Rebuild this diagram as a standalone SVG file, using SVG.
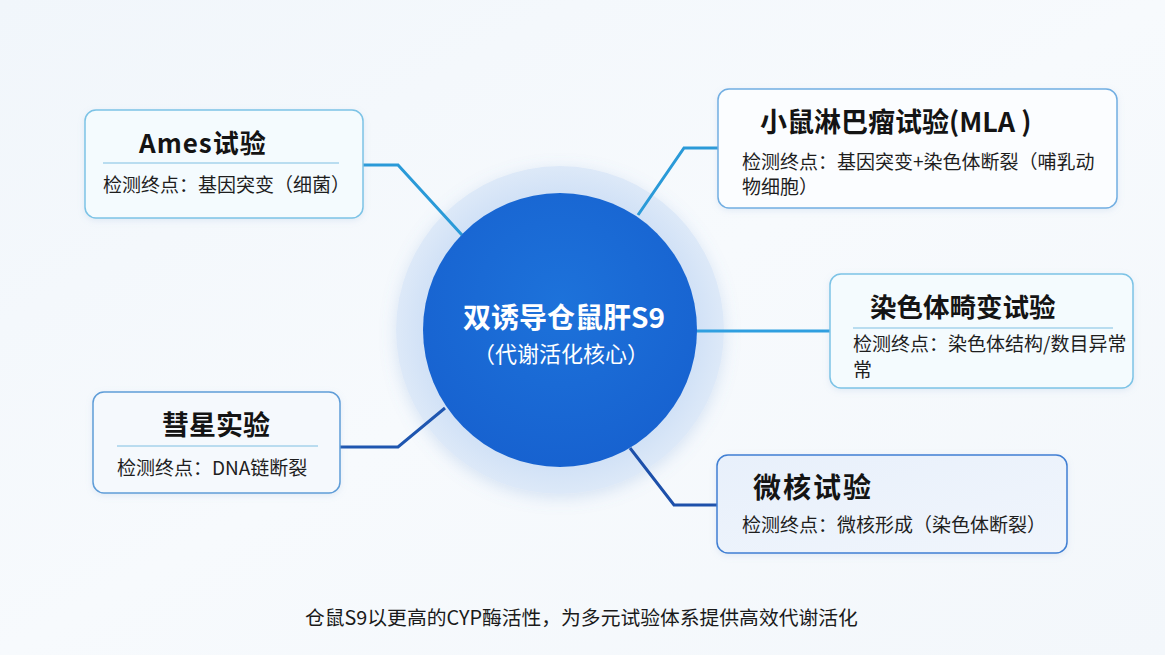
<svg xmlns="http://www.w3.org/2000/svg" width="1165" height="655" viewBox="0 0 1165 655">
  <defs>
    <linearGradient id="bg" x1="0" y1="0" x2="1" y2="1">
      <stop offset="0" stop-color="#f1f6fb"/>
      <stop offset="0.5" stop-color="#f7fafd"/>
      <stop offset="1" stop-color="#f3f7fb"/>
    </linearGradient>
    <radialGradient id="core" cx="0.5" cy="0.4" r="0.6">
      <stop offset="0" stop-color="#1d72da"/>
      <stop offset="1" stop-color="#1762d0"/>
    </radialGradient>
    <radialGradient id="halo" cx="0.5" cy="0.5" r="0.5">
      <stop offset="0.8" stop-color="#cfe0f6"/>
      <stop offset="1" stop-color="#dde9f8"/>
    </radialGradient>
    <linearGradient id="mnFill" x1="0" y1="0" x2="1" y2="1">
      <stop offset="0" stop-color="#e8f0fb"/>
      <stop offset="1" stop-color="#f0f5fc"/>
    </linearGradient>
    <filter id="sh" x="-10%" y="-10%" width="120%" height="130%">
      <feDropShadow dx="0" dy="2" stdDeviation="3" flood-color="#7ea6d0" flood-opacity="0.18"/>
    </filter>
    <filter id="csh" x="-20%" y="-20%" width="140%" height="140%">
      <feDropShadow dx="0" dy="4" stdDeviation="8" flood-color="#6d9bd6" flood-opacity="0.25"/>
    </filter>
  </defs>
  <style>
    .cjk { font-family: "Noto Sans CJK SC", "Noto Sans", sans-serif; }
    .title { font-weight: 700; fill: #141414; }
    .desc { font-size: 19px; fill: #1e1e1e; }
    .box { stroke-width: 1.5; filter: url(#sh); }
    .div { stroke: #7fbfe2; stroke-width: 1; }
    .conn { fill: none; stroke-width: 3; stroke-linejoin: miter; }
  </style>

  <rect x="0" y="0" width="1165" height="655" fill="url(#bg)"/>

  <g id="halo-ring">
    <circle cx="560" cy="330" r="164" fill="url(#halo)" filter="url(#csh)"/>
  </g>

  <g id="connectors">
    <polyline class="conn" stroke="#2a9ad8" points="363,165 398,165 462,235"/>
    <polyline class="conn" stroke="#2a9ad8" points="718,148 684,148 638,215"/>
    <polyline class="conn" stroke="#2f9fe0" points="695,331 830,331"/>
    <polyline class="conn" stroke="#1f56b0" points="340,447 398,447 445,408"/>
    <polyline class="conn" stroke="#1d50aa" points="718,505 674,505 630,448"/>
  </g>

  <g id="core">
    <circle cx="560" cy="330" r="137" fill="url(#core)"/>
    <text class="cjk" x="564" y="328" text-anchor="middle" font-size="28" font-weight="700" fill="#ffffff">双诱导仓鼠肝S9</text>
    <text class="cjk" x="561" y="362" text-anchor="middle" font-size="22" fill="#ffffff">（代谢活化核心）</text>
  </g>

  <g id="ames">
    <rect class="box" x="85" y="110" width="278" height="108" rx="11" fill="#f4fbfe" stroke="#7cc3e6"/>
    <text class="cjk title" x="139" y="153" font-size="26" letter-spacing="1">Ames试验</text>
    <line class="div" x1="103" y1="163" x2="339" y2="163"/>
    <text class="cjk desc" x="103" y="192" font-size="18.7">检测终点：基因突变（细菌）</text>
  </g>

  <g id="mla">
    <rect class="box" x="718" y="89" width="399" height="119" rx="11" fill="#fbfdff" stroke="#71aee2"/>
    <text class="cjk title" x="760" y="132" font-size="27">小鼠淋巴瘤试验(MLA )</text>
    <text class="cjk desc" x="742" y="169" font-size="19">检测终点：基因突变+染色体断裂（哺乳动</text>
    <text class="cjk desc" x="742" y="194" font-size="19">物细胞）</text>
  </g>

  <g id="chromosome">
    <rect class="box" x="830" y="274" width="303" height="114" rx="11" fill="#f4fbfe" stroke="#7cc3e6"/>
    <text class="cjk title" x="870" y="317" font-size="26.5">染色体畸变试验</text>
    <line class="div" x1="853" y1="328" x2="1113" y2="328"/>
    <text class="cjk desc" x="853" y="351" font-size="19">检测终点：染色体结构/数目异常</text>
    <text class="cjk desc" x="853" y="377" font-size="19">常</text>
  </g>

  <g id="comet">
    <rect class="box" x="93" y="392" width="247" height="101" rx="11" fill="#f5f9fd" stroke="#5f9dd8"/>
    <text class="cjk title" x="162" y="435" font-size="27">彗星实验</text>
    <line class="div" x1="117" y1="446" x2="318" y2="446" stroke="#5f9dd8"/>
    <text class="cjk desc" x="117" y="475" font-size="20">检测终点：DNA链断裂</text>
  </g>

  <g id="micronucleus">
    <rect class="box" x="717" y="455" width="350" height="98" rx="11" fill="url(#mnFill)" stroke="#3f7fd3"/>
    <text class="cjk title" x="753" y="498" font-size="28" letter-spacing="2">微核试验</text>
    <text class="cjk desc" x="742" y="532" font-size="18.8">检测终点：微核形成（染色体断裂）</text>
  </g>

  <g id="caption">
    <text class="cjk" x="305" y="625" font-size="19.8" fill="#1a1a1a">仓鼠S9以更高的CYP酶活性，为多元试验体系提供高效代谢活化</text>
  </g>
</svg>
